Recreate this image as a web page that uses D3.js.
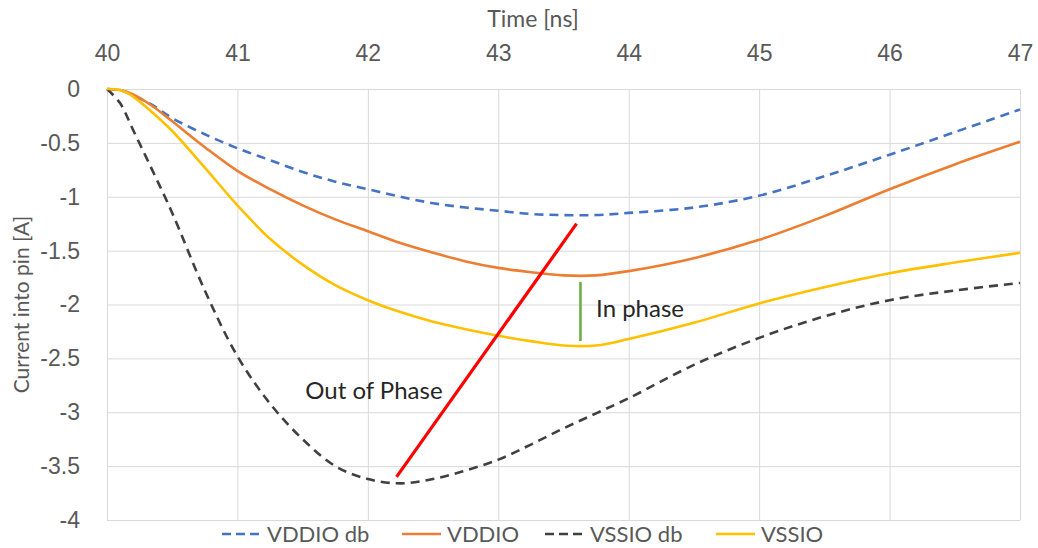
<!DOCTYPE html>
<html>
<head>
<meta charset="utf-8">
<script src="https://cdn.jsdelivr.net/npm/d3@7"></script>
<style>
  body { margin: 0; background: #fff; }
  svg { display: block; font-family: Lato, "Open Sans", sans-serif; }
</style>
</head>
<body>
<svg></svg>
<script>
///////////////////////////////////////////
// Data
var timeNs = [40, 40.1, 40.2, 40.35, 40.5, 40.75, 41, 41.25, 41.5, 41.75, 42, 42.25, 42.5,
              42.75, 43, 43.25, 43.5, 43.75, 44, 44.5, 45, 45.5, 46, 46.5, 47];

var vddioDb = [0, -0.01, -0.06, -0.15, -0.27, -0.42, -0.55, -0.66, -0.77, -0.86, -0.93, -1.00, -1.06,
               -1.10, -1.13, -1.16, -1.17, -1.17, -1.15, -1.10, -0.99, -0.81, -0.61, -0.40, -0.19];
var vddio   = [0, -0.01, -0.05, -0.16, -0.30, -0.54, -0.76, -0.93, -1.08, -1.21, -1.32, -1.43, -1.52,
               -1.60, -1.66, -1.70, -1.73, -1.73, -1.69, -1.57, -1.40, -1.18, -0.93, -0.70, -0.49];
var vssioDb = [0, -0.13, -0.38, -0.76, -1.15, -1.87, -2.48, -2.92, -3.25, -3.50, -3.62, -3.66, -3.62,
               -3.54, -3.44, -3.30, -3.15, -3.01, -2.87, -2.56, -2.31, -2.11, -1.96, -1.87, -1.80];
var vssio   = [0, -0.01, -0.07, -0.22, -0.39, -0.73, -1.08, -1.39, -1.63, -1.82, -1.96, -2.07, -2.16,
               -2.23, -2.29, -2.34, -2.38, -2.38, -2.32, -2.17, -1.99, -1.84, -1.71, -1.61, -1.52];

var seriesNames = ["VDDIO db", "VDDIO", "VSSIO db", "VSSIO"];
var xTicks = [40, 41, 42, 43, 44, 45, 46, 47];
var yTicks = [0, -0.5, -1, -1.5, -2, -2.5, -3, -3.5, -4];

// annotation lines: [t0, v0, t1, v1]
var outOfPhaseLine = [42.22, -3.60, 43.60, -1.25];
var inPhaseLine = [43.63, -1.79, 43.63, -2.34];

///////////////////////////////////////////
// Layout
var svgWidth = 1038, svgHeight = 548;
var margin = {top: 89, right: 18, bottom: 28, left: 107},
    width = svgWidth - margin.left - margin.right,
    height = svgHeight - margin.top - margin.bottom;

var svg = d3.select("svg").attr("width", svgWidth).attr("height", svgHeight);
var g = svg.append("g").attr("transform", "translate(" + [margin.left, margin.top] + ")");

var x = d3.scaleLinear().domain([40, 47]).range([0, width]);
var y = d3.scaleLinear().domain([-4, 0]).range([height, 0]);

var styles = {
  "VDDIO db": {color: "#4472C4", dash: "9,6", values: vddioDb},
  "VDDIO":    {color: "#ED7D31", dash: null,  values: vddio},
  "VSSIO db": {color: "#404040", dash: "9,6", values: vssioDb},
  "VSSIO":    {color: "#FFC000", dash: null,  values: vssio}
};

///////////////////////////////////////////
// Gridlines
var grid = g.append("g").attr("class", "grid");
grid.append("g")
  .call(d3.axisTop(x).tickValues(xTicks).tickSize(-height).tickFormat(""))
  .call(function(s){ s.select(".domain").remove(); });
grid.append("g")
  .call(d3.axisLeft(y).tickValues(yTicks).tickSize(-width).tickFormat(""))
  .call(function(s){ s.select(".domain").remove(); });
grid.selectAll("line").attr("stroke", "#d9d9d9").attr("stroke-width", 1);

// Axes labels
var xAxis = g.append("g")
  .call(d3.axisTop(x).tickValues(xTicks).tickSize(0).tickPadding(28).tickFormat(d3.format("d")));
var yAxis = g.append("g")
  .call(d3.axisLeft(y).tickValues(yTicks).tickSize(0).tickPadding(27).tickFormat(function(d){ return String(d); }));
[xAxis, yAxis].forEach(function(a){
  a.select(".domain").remove();
  a.selectAll("text").attr("fill", "#595959").style("font-size", "23px").attr("font-family", null);
});

svg.append("text")
  .attr("x", 533).attr("y", 27)
  .attr("text-anchor", "middle")
  .attr("fill", "#595959").style("font-size", "23px")
  .text("Time [ns]");

svg.append("text")
  .attr("transform", "translate(29," + (margin.top + height / 2) + ") rotate(-90)")
  .attr("text-anchor", "middle")
  .attr("fill", "#595959").style("font-size", "21px")
  .text("Current into pin [A]");

///////////////////////////////////////////
// Series
var line = d3.line()
  .x(function(d){ return x(d[0]); })
  .y(function(d){ return y(d[1]); })
  .curve(d3.curveCatmullRom.alpha(0.5));

seriesNames.forEach(function(name){
  var s = styles[name];
  g.append("path")
    .datum(timeNs.map(function(t, i){ return [t, s.values[i]]; }))
    .attr("fill", "none")
    .attr("stroke", s.color)
    .attr("stroke-width", 2.6)
    .attr("stroke-dasharray", s.dash)
    .attr("d", line);
});

// Annotations
g.append("line")
  .attr("x1", x(outOfPhaseLine[0])).attr("y1", y(outOfPhaseLine[1]))
  .attr("x2", x(outOfPhaseLine[2])).attr("y2", y(outOfPhaseLine[3]))
  .attr("stroke", "#FF0000").attr("stroke-width", 3.2);
g.append("line")
  .attr("x1", x(inPhaseLine[0])).attr("y1", y(inPhaseLine[1]))
  .attr("x2", x(inPhaseLine[2])).attr("y2", y(inPhaseLine[3]))
  .attr("stroke", "#70AD47").attr("stroke-width", 2.6);

g.append("text")
  .attr("x", x(41.52)).attr("y", y(-2.8))
  .attr("dy", "0.35em")
  .attr("fill", "#262626").style("font-size", "24px")
  .text("Out of Phase");
g.append("text")
  .attr("x", x(43.75)).attr("y", y(-2.04))
  .attr("dy", "0.35em")
  .attr("fill", "#262626").style("font-size", "24px")
  .text("In phase");

///////////////////////////////////////////
// Legend
var legend = svg.append("g").attr("transform", "translate(222,534)");
var legendX = [0, 180, 323, 494];
seriesNames.forEach(function(name, i){
  var s = styles[name];
  var item = legend.append("g").attr("transform", "translate(" + legendX[i] + ",0)");
  item.append("line")
    .attr("x1", 0).attr("x2", 39).attr("y1", 0).attr("y2", 0)
    .attr("stroke", s.color).attr("stroke-width", 2.6)
    .attr("stroke-dasharray", s.dash ? "9,5" : null);
  item.append("text")
    .attr("x", 45).attr("dy", "0.35em")
    .attr("fill", "#595959").style("font-size", "22px")
    .text(name);
});
</script>
</body>
</html>
